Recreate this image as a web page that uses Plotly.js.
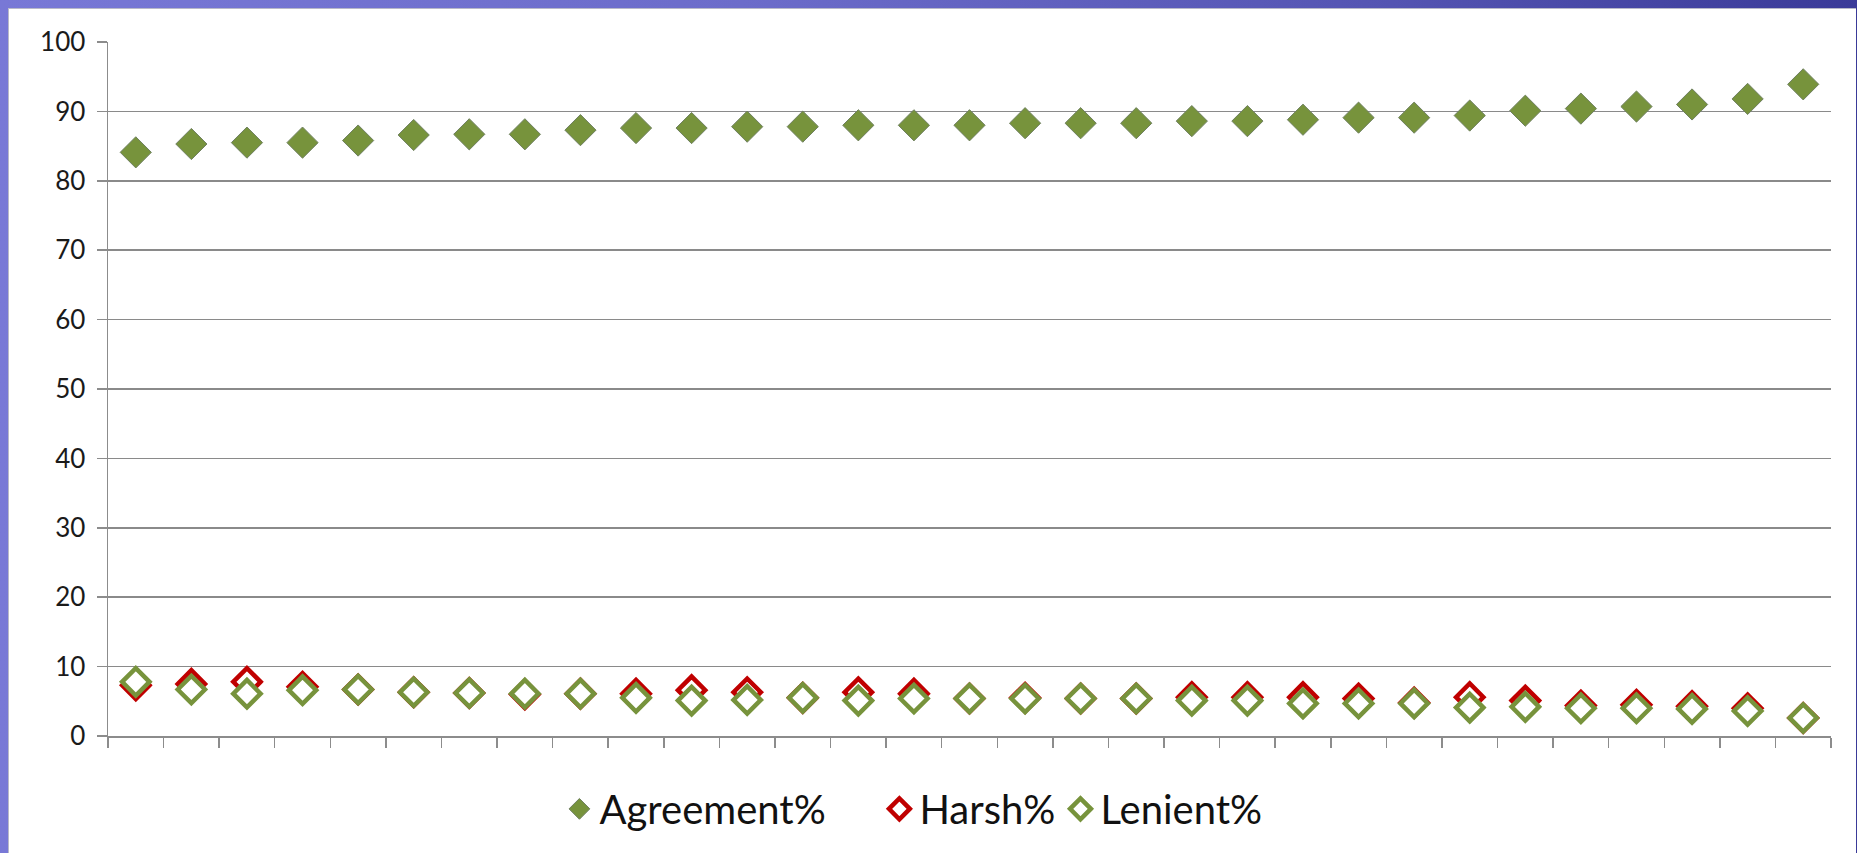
<!DOCTYPE html>
<html>
<head>
<meta charset="utf-8">
<script src="https://cdn.plot.ly/plotly-3.0.1.min.js"></script>
<style>
  html, body { margin: 0; padding: 0; }
  body {
    width: 1857px; height: 853px; overflow: hidden; position: relative;
    background: linear-gradient(90deg, #7878d6 0%, #6c6cca 40%, #5454b2 75%, #3a3a98 100%);
  }
  #frame {
    position: absolute; left: 8px; top: 8px; width: 1848px; height: 845px;
    background: #ffffff; border-left: 1px solid #b8b8c8; border-top: 1px solid #b8b8c8;
    box-sizing: border-box;
  }
  #chart { position: absolute; left: 0; top: 0; width: 1847px; height: 844px; }
</style>
</head>
<body>
<div id="frame"><div id="chart"></div></div>
<script>
// Categories (no visible labels in the reference)
const categories = ["1","2","3","4","5","6","7","8","9","10","11","12","13","14","15","16",
                    "17","18","19","20","21","22","23","24","25","26","27","28","29","30","31"];

const agreement = [84.1, 85.3, 85.5, 85.5, 85.8, 86.6, 86.7, 86.7, 87.3, 87.6, 87.6,
                   87.8, 87.8, 88.0, 88.0, 88.0, 88.3, 88.3, 88.3, 88.6, 88.6,
                   88.8, 89.1, 89.1, 89.4, 90.1, 90.4, 90.7, 91.0, 91.8, 93.9];

const harsh = [7.3, 7.5, 7.8, 7.1, 6.7, 6.3, 6.2, 6.0, 6.1, 6.1, 6.6,
               6.3, 5.5, 6.3, 6.1, 5.4, 5.5, 5.4, 5.4, 5.6, 5.6,
               5.6, 5.4, 4.8, 5.6, 5.1, 4.4, 4.5, 4.3, 4.0, 2.6];

const lenient = [7.8, 6.7, 6.1, 6.6, 6.7, 6.3, 6.2, 6.1, 6.1, 5.5, 5.1,
                 5.2, 5.5, 5.1, 5.4, 5.4, 5.4, 5.4, 5.4, 5.1, 5.1,
                 4.7, 4.7, 4.7, 4.1, 4.2, 4.0, 4.0, 3.9, 3.6, 2.6];

const yTicks = [0, 10, 20, 30, 40, 50, 60, 70, 80, 90, 100];

const GREEN = "#77933C";
const RED = "#C00000";

const traces = [
  {
    x: categories, y: agreement, name: "Agreement%", type: "scatter", mode: "markers",
    legend: "legend",
    marker: { symbol: "diamond", size: 24, color: GREEN, line: { color: "#6f8060", width: 1 } }
  },
  {
    x: categories, y: harsh, name: "Harsh%", type: "scatter", mode: "markers",
    legend: "legend2",
    marker: { symbol: "diamond", size: 21, color: "#ffffff", line: { color: RED, width: 4.5 } }
  },
  {
    x: categories, y: lenient, name: "Lenient%", type: "scatter", mode: "markers",
    legend: "legend3",
    marker: { symbol: "diamond", size: 21, color: "#ffffff", line: { color: GREEN, width: 4.5 } }
  }
];

const legendFont = { size: 40, color: "#111111", family: "Lato, sans-serif" };
const legendBase = { orientation: "h", xanchor: "left", y: -0.105, yanchor: "middle",
                     font: legendFont, itemsizing: "trace", bgcolor: "rgba(0,0,0,0)" };

const layout = {
  width: 1847, height: 844,
  paper_bgcolor: "#ffffff", plot_bgcolor: "#ffffff",
  margin: { l: 99, r: 25, t: 33, b: 114 },
  font: { family: "Lato, 'Open Sans', sans-serif", color: "#1a1a1a" },
  showlegend: true,
  legend: Object.assign({}, legendBase, { x: 0.262 }),
  legend2: Object.assign({}, legendBase, { x: 0.4477 }),
  legend3: Object.assign({}, legendBase, { x: 0.5528 }),
  xaxis: {
    type: "category", categoryorder: "array", categoryarray: categories,
    showticklabels: false, showgrid: false, zeroline: false,
    showline: true, linecolor: "#8c8c8c", linewidth: 1.5,
    ticks: "outside", tickson: "boundaries", ticklen: 10, tickcolor: "#8c8c8c", tickwidth: 1.5,
    range: [-0.5, categories.length - 0.5], fixedrange: true
  },
  yaxis: {
    range: [0, 100], tickmode: "array", tickvals: yTicks, ticktext: yTicks.map(String),
    showgrid: true, gridcolor: "#8a8a8a", gridwidth: 1.6, zeroline: false,
    showline: true, linecolor: "#8c8c8c", linewidth: 1.5,
    ticks: "outside", ticklen: 10, tickcolor: "#8c8c8c", tickwidth: 1.5,
    tickfont: { size: 26, color: "#1a1a1a", family: "Lato, sans-serif" },
    ticklabelstandoff: 6, fixedrange: true
  }
};

Plotly.newPlot("chart", traces, layout, { displayModeBar: false, staticPlot: true });
</script>
</body>
</html>
